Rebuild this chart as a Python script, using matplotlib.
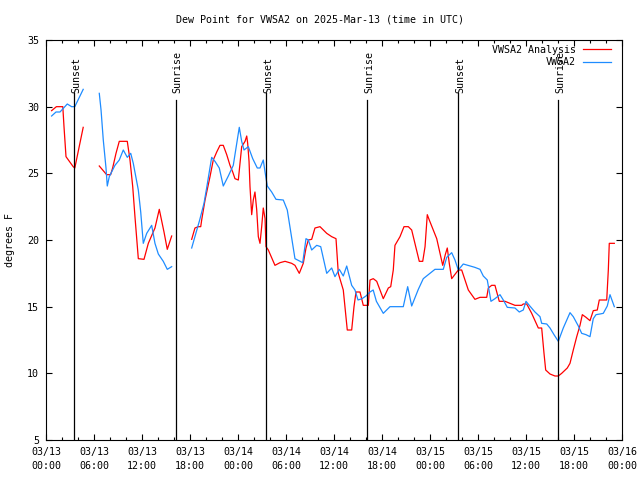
import numpy as np
import matplotlib
matplotlib.use("Agg")
import matplotlib.pyplot as plt

# hours since 03/13 00:00 UTC, nan = gap in the data
analysis_hours = [
    0.7, 1.3, 2.1, 2.25, 2.5, 2.8, 3.4, 3.6, 4.15, 4.65, 5.5,
    6.66, 7.58, 8.08, 8.33, 8.75, 9.16, 10.16, 10.5, 10.84, 11.12, 11.54, 12.25,
    12.79, 13.62, 14.16, 14.75, 15.16, 15.71, 17.0,
    18.21, 18.62, 19.04, 19.34, 19.46, 19.88, 20.09, 20.5, 20.91, 21.34, 21.75,
    22.16, 22.59, 23.0, 23.34, 23.62, 24.04, 24.25, 24.46, 24.88, 25.09, 25.21,
    25.38, 25.5, 25.71, 25.91, 26.12, 26.34, 26.54, 26.75, 26.96, 27.16, 27.38,
    27.5, 27.79, 28.62, 29.25, 29.88, 30.71, 31.12, 31.66, 32.16, 32.5, 32.79,
    33.21, 33.62, 34.25, 35.09, 35.71, 36.25, 36.54, 37.16, 37.38, 37.66, 38.21,
    38.5, 38.75, 39.25, 39.66, 40.29, 40.5, 40.91, 41.34, 41.75, 42.16, 42.79,
    43.09, 43.41, 43.62, 44.25, 44.75, 45.29, 45.71, 46.66, 47.09, 47.38, 47.66,
    47.91, 48.41, 48.84, 49.41, 49.59, 49.91, 50.16, 50.41, 50.71, 51.54, 51.96,
    52.79, 53.62, 54.25, 55.09, 55.29, 55.71, 56.12, 56.66, 57.38, 57.79, 58.62,
    59.46, 59.66, 60.09, 60.71, 61.54, 61.96, 62.25, 62.46, 63.0, 63.62, 64.04,
    64.46, 65.16, 65.5, 65.91, 66.34, 66.75, 67.04, 67.5, 68.0, 68.41, 68.91,
    69.16, 70.09, 70.29, 70.41, 71.04,
]
analysis_dewpt = [
    29.7, 30.0, 30.0, 28.5, 26.25, 26.0, 25.5, 25.4, 27.0, 28.45, np.nan,
    25.55, 24.9, 24.9, 25.4, 26.5, 27.4, 27.4, 26.0, 24.0, 21.75, 18.6, 18.55,
    19.75, 20.9, 22.3, 20.6, 19.3, 20.3, np.nan,
    20.05, 20.9, 21.0, 21.0, 21.5, 23.0, 23.6, 24.75, 26.0, 26.6, 27.1,
    27.1, 26.4, 25.6, 25.1, 24.6, 24.5, 25.75, 27.0, 27.4, 27.8, 27.25,
    25.9, 24.0, 21.9, 23.0, 23.6, 22.25, 20.25, 19.75, 21.0, 22.4, 21.6,
    19.5, 19.25, 18.1, 18.3, 18.4, 18.25, 18.1, 17.5, 18.25, 19.4, 20.0,
    20.05, 20.9, 21.0, 20.5, 20.25, 20.1, 17.5, 16.25, 14.9, 13.25, 13.25,
    15.0, 16.1, 16.1, 15.1, 15.1, 17.0, 17.1, 16.9, 16.25, 15.6, 16.4,
    16.5, 17.75, 19.6, 20.25, 21.0, 21.0, 20.75, 18.4, 18.4, 19.5, 21.9,
    21.5, 20.75, 20.1, 18.6, 18.1, 18.9, 19.4, 18.25, 17.1, 17.75, 17.75,
    16.25, 15.55, 15.7, 15.7, 16.4, 16.6, 16.6, 15.4, 15.4, 15.3, 15.1,
    15.1, 15.2, 15.2, 14.5, 13.4, 13.4, 11.5, 10.25, 9.95, 9.8, 9.8,
    10.0, 10.4, 10.75, 11.75, 12.75, 13.6, 14.4, 14.2, 13.95, 14.7, 14.75,
    15.5, 15.5, 17.75, 19.75, 19.75,
]

obs_hours = [
    0.7, 1.25, 1.75, 2.66, 3.2, 3.6, 4.65, 5.5,
    6.66, 6.88, 7.16, 7.5, 7.66, 7.91, 8.62, 9.16, 9.66, 10.16, 10.59, 10.91,
    11.54, 11.84, 12.16, 12.59, 13.21, 13.62, 14.04, 14.66, 15.16, 15.71, 17.0,
    18.21, 18.62, 19.21, 19.75, 20.08, 20.71, 21.12, 21.66, 22.16, 22.79, 23.41,
    23.84, 24.16, 24.46, 24.75, 25.29, 25.84, 26.41, 26.75, 27.16, 27.38, 27.66,
    28.21, 28.75, 29.66, 30.16, 31.12, 31.75, 32.09, 32.5, 32.79, 33.21, 33.84,
    34.34, 35.09, 35.71, 36.12, 36.66, 37.16, 37.59, 38.21, 38.62, 39.0, 39.5,
    40.0, 40.5, 40.9, 41.3, 42.16, 43.0, 44.66, 45.21, 45.71, 46.54, 47.16,
    48.62, 49.66, 50.09, 50.71, 51.12, 51.54, 52.16, 53.0, 53.6, 54.25, 54.66,
    55.16, 55.62, 56.12, 56.75, 57.16, 57.66, 58.62, 59.16, 59.66, 60.0, 60.41,
    61.12, 61.75, 61.96, 62.59, 63.0, 63.5, 64.04, 64.66, 65.5, 65.91, 66.54,
    66.96, 67.5, 68.0, 68.41, 68.75, 69.25, 69.66, 70.16, 70.5, 70.71, 71.04,
]
obs_dewpt = [
    29.3, 29.6, 29.6, 30.2, 30.0, 30.0, 31.3, np.nan,
    31.0, 29.75, 27.5, 25.4, 24.05, 24.75, 25.6, 26.0, 26.75, 26.2, 26.5, 25.75,
    23.75, 22.1, 19.75, 20.5, 21.1, 19.75, 18.95, 18.4, 17.8, 18.0, np.nan,
    19.4, 20.25, 21.5, 22.75, 23.9, 26.2, 25.9, 25.4, 24.05, 24.8, 25.6,
    27.25, 28.45, 27.4, 26.75, 27.0, 26.1, 25.4, 25.4, 26.0, 25.1, 24.05,
    23.6, 23.05, 23.0, 22.25, 18.6, 18.4, 18.3, 20.1, 20.0, 19.25, 19.6,
    19.5, 17.5, 17.9, 17.25, 17.8, 17.3, 18.05, 16.6, 16.25, 15.5, 15.6,
    15.8, 16.1, 16.25, 15.4, 14.5, 15.0, 15.0, 16.5, 15.05, 16.3, 17.1,
    17.8, 17.8, 18.7, 19.05, 18.5, 17.75, 18.2, 18.05, 17.95, 17.8, 17.3,
    17.0, 15.4, 15.6, 15.9, 15.5, 14.95, 14.9, 14.6, 14.75, 15.4, 15.1,
    14.6, 14.25, 13.75, 13.7, 13.4, 12.9, 12.4, 13.4, 14.55, 14.25, 13.55,
    13.0, 12.9, 12.75, 14.1, 14.4, 14.45, 14.5, 15.05, 15.9, 15.55, 15.0,
]

event_hours = [3.54, 16.25, 27.54, 40.17, 51.54, 64.04]
event_labels = ["Sunset", "Sunrise", "Sunset", "Sunrise", "Sunset", "Sunrise"]

tick_hours = list(range(0, 73, 6))
tick_labels = [
    "03/13\n00:00", "03/13\n06:00", "03/13\n12:00", "03/13\n18:00",
    "03/14\n00:00", "03/14\n06:00", "03/14\n12:00", "03/14\n18:00",
    "03/15\n00:00", "03/15\n06:00", "03/15\n12:00", "03/15\n18:00",
    "03/16\n00:00",
]

plt.rcParams["font.family"] = "DejaVu Sans Mono"
plt.rcParams["font.size"] = 7.2
plt.rcParams["xtick.direction"] = "in"
plt.rcParams["ytick.direction"] = "in"
plt.rcParams["xtick.top"] = True
plt.rcParams["ytick.right"] = True
plt.rcParams["axes.linewidth"] = 0.8

fig = plt.figure(figsize=(6.4, 4.8), dpi=100)
ax = fig.add_axes([46 / 640, 40 / 480, 576 / 640, 400 / 480])

ax.plot(analysis_hours, analysis_dewpt, color="#ff0000", lw=0.9, label="VWSA2 Analysis")
ax.plot(obs_hours, obs_dewpt, color="#1e8cff", lw=0.9, label="VWSA2")

# sunrise / sunset markers
line_top = {"Sunset": 31.05, "Sunrise": 30.5}
for t, lab in zip(event_hours, event_labels):
    ax.plot([t, t], [5, line_top[lab]], color="black", lw=0.9)
    ax.text(t + 0.2, 31.05, lab, rotation=90, ha="center", va="bottom")

ax.set_xlim(0, 72)
ax.set_ylim(5, 35)
ax.set_xticks(tick_hours)
ax.set_xticklabels(tick_labels, linespacing=1.45)
ax.set_xticks(range(0, 73, 2), minor=True)
ax.set_yticks(range(5, 36, 5))
ax.tick_params(axis="both", which="major", length=4, width=0.8, pad=5)
ax.tick_params(axis="x", which="minor", length=2, width=0.8)

fig.text(0.5, 1 - 20 / 480, "Dew Point for VWSA2 on 2025-Mar-13 (time in UTC)",
         ha="center", va="center")
fig.text(10 / 640, 0.5, "degrees F", rotation=90, ha="center", va="center")

ax.legend(loc="upper right", bbox_to_anchor=(1 - 6 / 576, 1.0), frameon=False,
          markerfirst=False, handlelength=2.8, handletextpad=0.7,
          labelspacing=0.25, borderaxespad=0.1, fontsize=7.2)

fig.savefig("out.png", dpi=100)
